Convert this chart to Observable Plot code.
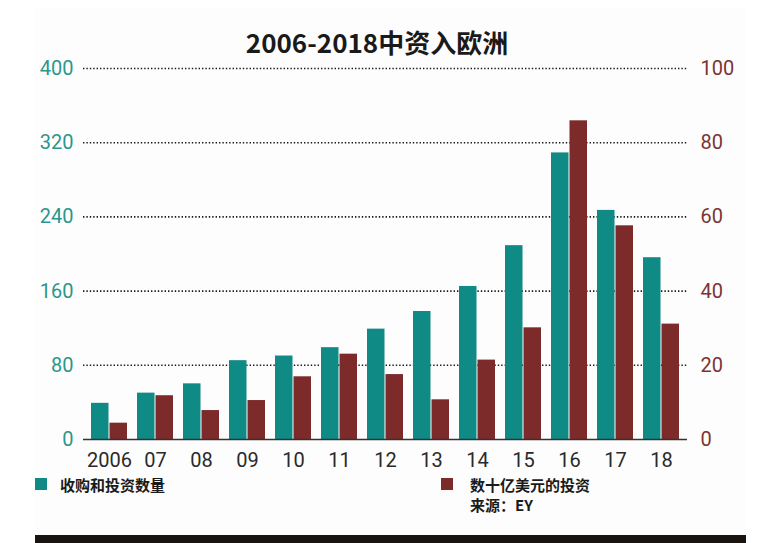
<!DOCTYPE html>
<html>
<head>
<meta charset="utf-8">
<script src="https://cdn.jsdelivr.net/npm/d3@7"></script>
<script src="https://cdn.jsdelivr.net/npm/@observablehq/plot@0.6"></script>
<style>
  html, body { margin: 0; padding: 0; background: #ffffff; }
  #wrap { position: relative; width: 760px; height: 543px; overflow: hidden; font-family: "Noto Sans CJK SC", "Noto Sans", sans-serif; }
  #panel { position: absolute; left: 35px; top: 8px; width: 711px; height: 527px; background: #fdfdfd; }
  #bottombar { position: absolute; left: 35px; top: 535px; width: 711px; height: 8px; background: #1a1410; }
  #title { position: absolute; left: 0; width: 754px; top: 24px; text-align: center; font-size: 26px; font-weight: 700; color: #1a1a1a; line-height: 36px; }
  #chart { position: absolute; left: 0; top: 0; }
  .leg { position: absolute; font-size: 15px; font-weight: 700; color: #1a1a1a; line-height: 20px; white-space: nowrap; }
  .sw { position: absolute; width: 12px; height: 12px; }
</style>
</head>
<body>
<div id="wrap">
  <div id="panel"></div>
  <div id="chart"></div>
  <div id="title"></div>
  <div class="sw" id="sw1" style="left:35px; top:478px;"></div>
  <div class="leg" id="leg1" style="left:60px; top:475px;"></div>
  <div class="sw" id="sw2" style="left:441px; top:478px;"></div>
  <div class="leg" id="leg2" style="left:470px; top:475px;"></div>
  <div class="leg" id="src" style="left:470px; top:495px;"></div>
  <div id="bottombar"></div>
</div>
<script>
const titleText = "2006-2018中资入欧洲";
const years = ["2006", "07", "08", "09", "10", "11", "12", "13", "14", "15", "16", "17", "18"];
const dealCounts = [39, 50, 60, 85, 90, 99, 119, 138, 165, 209, 309, 247, 196];
const investBn = [4.4, 11.8, 7.8, 10.5, 16.9, 23, 17.5, 10.7, 21.4, 30.1, 85.9, 57.6, 31.1];
const leftTicks = [0, 80, 160, 240, 320, 400];
const rightTicks = [0, 20, 40, 60, 80, 100];
const seriesNames = ["收购和投资数量", "数十亿美元的投资"];
const sourceText = "来源：EY";

const teal = "#0f8a84";
const maroon = "#7c2a2a";
const tealText = "#2a978d";
const maroonText = "#7a3434";
const ratio = 400 / 100;

const countData = years.map((y, i) => ({year: y, value: dealCounts[i]}));
const investData = years.map((y, i) => ({year: y, value: investBn[i] * ratio}));

const chart = Plot.plot({
  width: 760,
  height: 476,
  marginTop: 68,
  marginBottom: 37,
  marginLeft: 83,
  marginRight: 73,
  style: {background: "transparent", fontFamily: "Roboto, 'Liberation Sans', sans-serif"},
  x: {type: "band", domain: years, paddingInner: 0.224, paddingOuter: 0.112},
  y: {domain: [0, 400]},
  marks: [
    Plot.ruleY(leftTicks.filter(d => d > 0), {stroke: "#1a1a1a", strokeWidth: 1.6, strokeDasharray: "1.4,2"}),
    Plot.barY(countData, {x: "year", y: "value", fill: teal, insetRight: 18.5}),
    Plot.barY(investData, {x: "year", y: "value", fill: maroon, insetLeft: 18.5}),
    Plot.ruleY([0], {stroke: "#333", strokeWidth: 1.5}),
    Plot.axisY({ticks: leftTicks, tickSize: 0, tickPadding: 10, fontSize: 20, color: tealText, label: null, anchor: "left"}),
    Plot.axisY({ticks: rightTicks.map(d => d * ratio), tickFormat: d => d / ratio, tickSize: 0, tickPadding: 13, fontSize: 20, color: maroonText, label: null, anchor: "right"}),
    Plot.axisX({tickSize: 0, tickPadding: 13, fontSize: 20, color: "#2a2a2a", label: null})
  ]
});
document.getElementById("chart").appendChild(chart);
document.getElementById("title").textContent = titleText;
document.getElementById("sw1").style.background = teal;
document.getElementById("sw2").style.background = maroon;
document.getElementById("leg1").textContent = seriesNames[0];
document.getElementById("leg2").textContent = seriesNames[1];
document.getElementById("src").textContent = sourceText;
</script>
</body>
</html>
